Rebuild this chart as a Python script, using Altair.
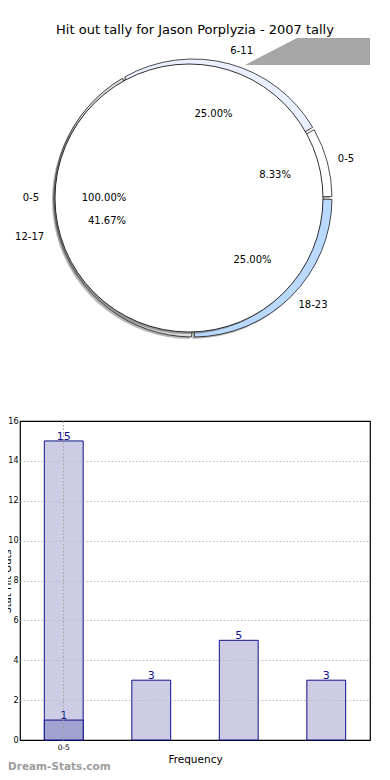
import math
import altair as alt
import pandas as pd

# ---------------- data ----------------
title_text = "Hit out tally for Jason Porplyzia - 2007 tally"

pie_bins = ["0-5", "6-11", "12-17", "18-23"]
pie_values = [1, 3, 5, 3]

full_bins = ["0-5"]
full_values = [1]

bar_cats = ["0-5", "6-11", "12-17", "18-23"]
bar_values = [15, 3, 5, 3]
overlay_cats = ["0-5"]
overlay_values = [1]
y_ticks = [0, 2, 4, 6, 8, 10, 12, 14, 16]
x_label_shown = "0-5"

watermark = "Dream-Stats.com"
x_title = "Frequency"
y_title = "Stat Hit Outs"

# ---------------- styles ----------------
pie_colors = ["#ffffff", "#eaf0ff", "#dcdcdc", "#b9d9ff"]
FONT = "DejaVu Sans"
NAVY = "#10108a"
BAR_FILL = "#ccccE4"
OVER_FILL = "#a3a3d1"

START = math.pi / 2


def pie_frame(bins, values):
    n = len(bins)
    total = sum(values)
    rank = [n - 1 - i for i in range(n)]  # clockwise drawing order
    df = pd.DataFrame({"bin": bins, "value": values, "rank": rank})
    df = df.sort_values("rank").reset_index(drop=True)
    cum = df["value"].cumsum() - df["value"] / 2
    mid = START + 2 * math.pi * cum / total
    right = [math.sin(m) > 1e-9 for m in mid]
    df["pct"] = [f"{v / total * 100:.2f}%" for v in df["value"]]
    df["labR"] = [b if r else "" for b, r in zip(df["bin"], right)]
    df["labL"] = [b if not r else "" for b, r in zip(df["bin"], right)]
    return df


pie_df = pie_frame(pie_bins, pie_values)
full_df = pie_frame(full_bins, full_values)
bars_df = pd.DataFrame({"cat": bar_cats, "value": bar_values})
over_df = pd.DataFrame({"cat": overlay_cats, "value": overlay_values})
title_df = pd.DataFrame({"t": [title_text]})
wm_df = pd.DataFrame({"t": [watermark]})
deco_df = pd.DataFrame({"k": [0]})

# ---------------- positions (plot coords) ----------------
UX, UY = 173, -223   # underlying pie centre
WX, WY = 169, -223   # white pie centre
LX, LY = 171, -223   # label centre
R_U, R_W = 139, 134
R_LAB, R_PCT = 152, 87

theta_rng = alt.Scale(range=[START, START + 2 * math.pi])


def theta():
    return alt.Theta("value:Q", stack=True, scale=theta_rng)


order = alt.Order("rank:Q")
color_u = alt.Color("bin:N", scale=alt.Scale(domain=pie_bins, range=pie_colors), legend=None)

shadow_u = alt.Chart(pie_df).mark_arc(
    outerRadius=R_U, padAngle=0.02, fill="#7a7a7a", opacity=0.55
).encode(theta=theta(), order=order, x=alt.value(UX - 2), y=alt.value(UY + 2))

arcs_u = alt.Chart(pie_df).mark_arc(
    outerRadius=R_U, padAngle=0.02, stroke="black", strokeWidth=0.7
).encode(theta=theta(), order=order, color=color_u, x=alt.value(UX), y=alt.value(UY))

shadow_w = alt.Chart(full_df).mark_arc(
    outerRadius=R_W, fill="#6a6a6a", opacity=0.6
).encode(theta=theta(), order=order, x=alt.value(WX - 2), y=alt.value(WY + 2))

arc_w = alt.Chart(full_df).mark_arc(
    outerRadius=R_W, fill="white", stroke="black", strokeWidth=0.8
).encode(theta=theta(), order=order, x=alt.value(WX), y=alt.value(WY))


def pie_texts(df):
    base = alt.Chart(df)
    common = dict(theta=theta(), order=order, x=alt.value(LX), y=alt.value(LY))
    right = base.mark_text(radius=R_LAB, align="left", baseline="middle", font=FONT,
                           fontSize=10, color="black").encode(text="labR:N", **common)
    left = base.mark_text(radius=R_LAB, align="right", baseline="middle", font=FONT,
                          fontSize=10, color="black").encode(text="labL:N", **common)
    pct = base.mark_text(radius=R_PCT, align="center", baseline="middle", font=FONT,
                         fontSize=10, color="black").encode(text="pct:N", **common)
    return [right, left, pct]


title = alt.Chart(title_df).mark_text(
    font=FONT, fontSize=13, align="center", baseline="middle", color="black"
).encode(text="t:N", x=alt.value(175), y=alt.value(-391))

deco = alt.Chart(deco_df).mark_point(
    shape="M -1 0.216 L -0.168 -0.216 L 1 -0.216 L 1 0.216 Z",
    size=15625, filled=True, fill="#a6a6a6", opacity=1, strokeWidth=0
).encode(x=alt.value(287.5), y=alt.value(-369.5))

wm = alt.Chart(wm_df).mark_text(
    font=FONT, fontSize=10.5, fontWeight="bold", align="left", baseline="middle", color="#9c9c9c"
).encode(text="t:N", x=alt.value(-12), y=alt.value(346))

# ---------------- bars ----------------
x_enc = alt.X(
    "cat:N", sort=bar_cats,
    scale=alt.Scale(paddingInner=0.556, paddingOuter=0.278),
    axis=alt.Axis(
        title=x_title, labelAngle=0, ticks=False, domain=False,
        labelExpr=f"datum.value == '{x_label_shown}' ? datum.label : ''",
        labelFontSize=7.5, labelPadding=3, titlePadding=4,
        titleFontSize=10.5, titleFontWeight="normal",
        grid=True, gridColor="#a0a0a0", gridDash=[1.5, 2], gridWidth=1,
        gridOpacity={"condition": {"test": f"datum.value == '{x_label_shown}'", "value": 1}, "value": 0},
        zindex=1,
    ),
)
y_enc = alt.Y(
    "value:Q",
    scale=alt.Scale(domain=[0, 16], nice=False),
    axis=alt.Axis(
        values=y_ticks, title=y_title, ticks=False, domain=False,
        labelFontSize=8, labelPadding=2,
        titleFontSize=10, titleFontWeight="normal", titleX=-8, titleY=160,
        grid=True, gridColor="#bdbdbd", gridDash=[1.5, 2], gridWidth=1,
        gridOpacity={"condition": {"test": "datum.value > 0 && datum.value < 16", "value": 1}, "value": 0},
        zindex=1,
    ),
)

bars = alt.Chart(bars_df).mark_bar(fill=BAR_FILL, stroke=NAVY, strokeWidth=1).encode(x=x_enc, y=y_enc)
over = alt.Chart(over_df).mark_bar(fill=OVER_FILL, stroke=NAVY, strokeWidth=1).encode(x=x_enc, y=y_enc)
bar_txt = alt.Chart(bars_df).mark_text(
    font=FONT, fontSize=11, color=NAVY, baseline="middle", dy=-4
).encode(x=x_enc, y=y_enc, text="value:Q")
over_txt = alt.Chart(over_df).mark_text(
    font=FONT, fontSize=11, color=NAVY, baseline="middle", dy=-4
).encode(x=x_enc, y=y_enc, text="value:Q")

layers = [bars, over, bar_txt, over_txt,
          shadow_u, arcs_u, shadow_w, arc_w] + pie_texts(pie_df) + pie_texts(full_df) + [title, deco, wm]

chart = alt.layer(*layers).resolve_scale(
    theta="independent", color="independent"
).properties(
    width=350, height=319,
    padding={"left": 12, "top": 413, "right": 12, "bottom": 32},
    autosize=alt.AutoSizeParams(type="none"),
).configure_view(
    stroke="black", strokeWidth=1.2
).configure_axis(
    labelFont=FONT, titleFont=FONT, labelColor="black", titleColor="black"
)

chart.save("out.html", embed_options={"renderer": "svg", "actions": False})
